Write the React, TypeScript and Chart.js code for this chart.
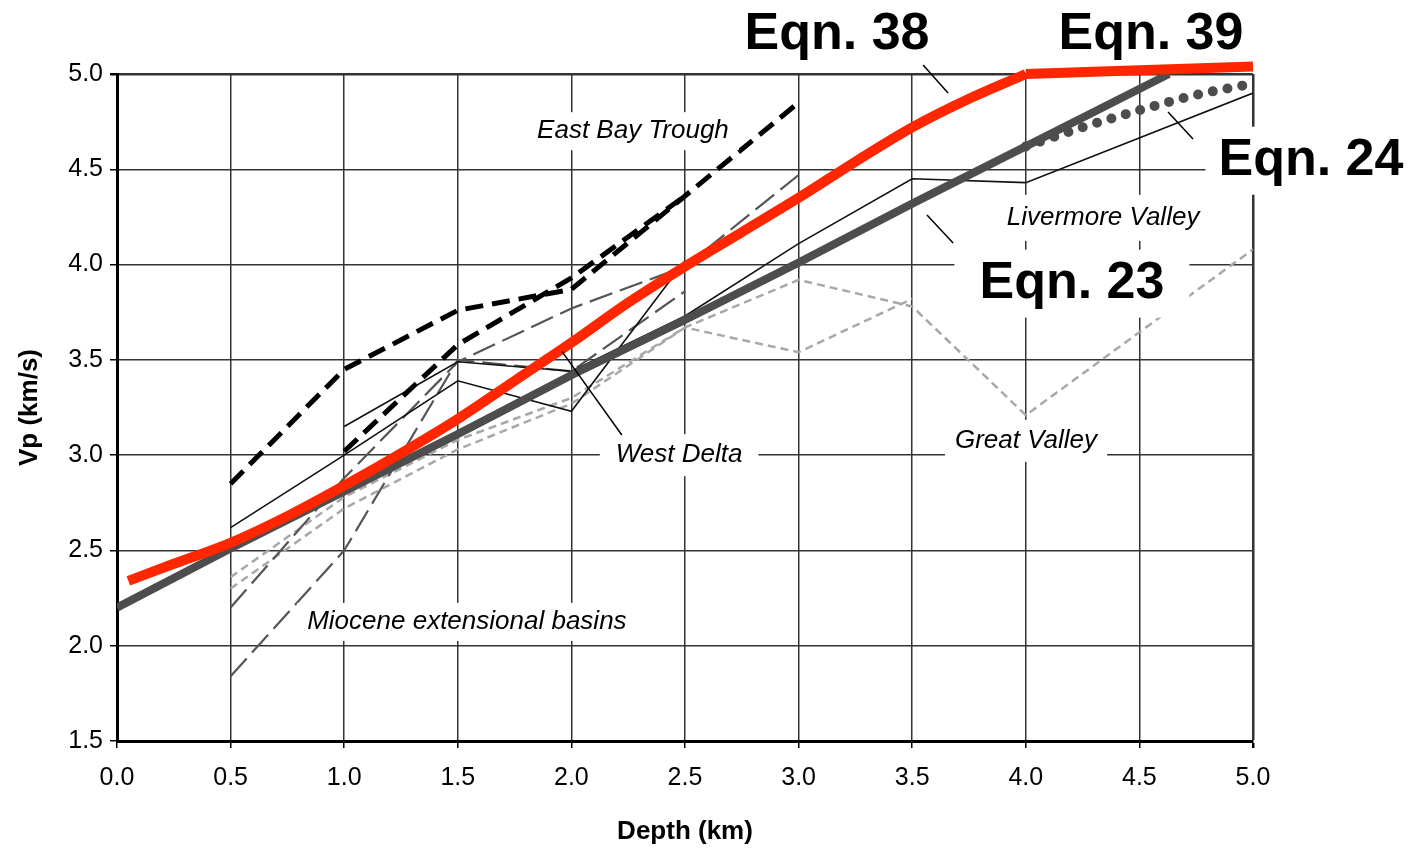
import React, { useEffect, useRef } from 'react';
import { Chart, registerables } from 'chart.js';

Chart.register(...registerables);

// ---------- data ----------
const depthTicks = [0, 0.5, 1, 1.5, 2, 2.5, 3, 3.5, 4, 4.5, 5];
const vpTicks = [1.5, 2, 2.5, 3, 3.5, 4, 4.5, 5];

const eqn38Depth = [0.05, 0.25, 0.5, 0.75, 1.0, 1.25, 1.5, 1.75, 2.0, 2.25, 2.5, 2.75, 3.0, 3.25, 3.5, 3.75, 4.0];
const eqn38Vp = [2.34, 2.43, 2.54, 2.68, 2.84, 3.01, 3.19, 3.39, 3.59, 3.8, 3.99, 4.17, 4.35, 4.54, 4.72, 4.87, 5.0];

const eqn39Depth = [4.0, 4.5, 5.0];
const eqn39Vp = [5.0, 5.02, 5.04];

const eqn23Depth = [0, 0.5, 1.0, 1.5, 2.0, 2.5, 3.0, 3.5, 4.0, 4.63];
const eqn23Vp = [2.2, 2.51, 2.81, 3.11, 3.42, 3.71, 4.01, 4.32, 4.62, 5.0];

const eqn24Depth = [4.0, 4.25, 4.5, 4.75, 5.0];
const eqn24Vp = [4.62, 4.72, 4.81, 4.89, 4.95];

const eastBayADepth = [0.5, 1.0, 1.5, 2.0, 2.5, 3.0];
const eastBayAVp = [2.85, 3.45, 3.76, 3.87, 4.36, 4.85];
const eastBayBDepth = [1.0, 1.5, 2.0, 2.5];
const eastBayBVp = [3.02, 3.58, 3.93, 4.36];

const livermoreDepth = [1.0, 1.5, 2.0, 2.5, 3.0, 3.5, 4.0, 5.0];
const livermoreVp = [3.15, 3.49, 3.44, 3.73, 4.11, 4.45, 4.43, 4.9];

const westDeltaDepth = [0.5, 1.0, 1.5, 2.0, 2.5];
const westDeltaVp = [2.62, 3.0, 3.39, 3.23, 4.02];

const mioceneADepth = [0.5, 1.0, 1.5, 2.0, 2.5];
const mioceneAVp = [1.84, 2.5, 3.5, 3.44, 3.86];
const mioceneBDepth = [0.5, 1.0, 1.5, 2.0, 2.5, 3.0];
const mioceneBVp = [2.2, 2.88, 3.49, 3.77, 3.99, 4.47];

const greatValleyADepth = [0.5, 1.0, 1.5, 2.0, 2.5, 3.0, 3.5, 4.0, 5.0];
const greatValleyAVp = [2.36, 2.78, 3.08, 3.3, 3.67, 3.92, 3.78, 3.21, 4.08];
const greatValleyBDepth = [0.5, 1.0, 1.5, 2.0, 2.5, 3.0, 3.5];
const greatValleyBVp = [2.3, 2.72, 3.03, 3.27, 3.67, 3.54, 3.82];

// ---------- annotations (text in data coordinates) ----------
type Note = { text: string; x: number; y: number; italic: boolean; bold: boolean; size: number; padX: number; padY: number; box: boolean };
const notes: Note[] = [
  { text: 'East Bay Trough', x: 2.271, y: 4.7, italic: true, bold: false, size: 26, padX: 10, padY: 6, box: true },
  { text: 'West Delta', x: 2.474, y: 3.0, italic: true, bold: false, size: 26, padX: 16, padY: 8, box: true },
  { text: 'Miocene extensional basins', x: 1.54, y: 2.125, italic: true, bold: false, size: 26, padX: 10, padY: 6, box: true },
  { text: 'Great Valley', x: 4.001, y: 3.075, italic: true, bold: false, size: 26, padX: 10, padY: 8, box: true },
  { text: 'Livermore Valley', x: 4.34, y: 4.245, italic: true, bold: false, size: 26, padX: 10, padY: 10, box: true },
  { text: 'Eqn. 23', x: 4.203, y: 3.9, italic: false, bold: true, size: 52, padX: 25, padY: 8, box: true },
  { text: 'Eqn. 24', x: 5.255, y: 4.545, italic: false, bold: true, size: 52, padX: 13, padY: 8, box: true },
  { text: 'Eqn. 38', x: 3.169, y: 5.208, italic: false, bold: true, size: 52, padX: 0, padY: 0, box: false },
  { text: 'Eqn. 39', x: 4.551, y: 5.208, italic: false, bold: true, size: 52, padX: 0, padY: 0, box: false },
];

const leaders: number[][] = [
  [3.548, 5.047, 3.658, 4.9],
  [4.626, 4.801, 4.736, 4.659],
  [3.565, 4.26, 3.68, 4.113],
  [1.959, 3.543, 2.222, 3.106],
];

const FONT = "'Liberation Sans', Arial, Helvetica, sans-serif";

const pts = (xs: number[], ys: number[]) => xs.map((x, i) => ({ x, y: ys[i] }));

const notePlugin = {
  id: 'notes',
  afterDatasetsDraw(chart: any) {
    const ctx = chart.ctx;
    const xs = chart.scales.x;
    const ys = chart.scales.y;
    ctx.save();
    notes.forEach((n) => {
      const px = xs.getPixelForValue(n.x);
      const py = ys.getPixelForValue(n.y);
      ctx.font = `${n.italic ? 'italic ' : ''}${n.bold ? 'bold ' : ''}${n.size}px ${FONT}`;
      const w = ctx.measureText(n.text).width;
      if (n.box) {
        ctx.fillStyle = '#ffffff';
        const h = n.size + 2 * n.padY;
        ctx.fillRect(px - w / 2 - n.padX, py - h / 2, w + 2 * n.padX, h);
      }
      ctx.fillStyle = '#000000';
      ctx.textAlign = 'center';
      ctx.textBaseline = 'middle';
      ctx.fillText(n.text, px, py);
    });
    ctx.strokeStyle = '#000000';
    ctx.lineWidth = 1.5;
    leaders.forEach((l) => {
      ctx.beginPath();
      ctx.moveTo(xs.getPixelForValue(l[0]), ys.getPixelForValue(l[1]));
      ctx.lineTo(xs.getPixelForValue(l[2]), ys.getPixelForValue(l[3]));
      ctx.stroke();
    });
    ctx.restore();
  },
};

export default function App() {
  const ref = useRef<HTMLCanvasElement | null>(null);

  useEffect(() => {
    if (!ref.current) return;
    const base = { pointRadius: 0, pointHoverRadius: 0, fill: false, tension: 0 };
    const chart = new Chart(ref.current, {
      type: 'line',
      data: {
        datasets: [
          { ...base, label: 'Eqn. 38', data: pts(eqn38Depth, eqn38Vp), borderColor: '#ff2600', borderWidth: 10, cubicInterpolationMode: 'monotone', borderCapStyle: 'butt', borderJoinStyle: 'round', clip: { left: 0, top: 16, right: 0, bottom: 0 } },
          { ...base, label: 'Eqn. 39', data: pts(eqn39Depth, eqn39Vp), borderColor: '#ff2600', borderWidth: 10, borderCapStyle: 'butt', clip: { left: 0, top: 16, right: 0, bottom: 0 } },
          { ...base, label: 'Eqn. 23', data: pts(eqn23Depth, eqn23Vp), borderColor: '#4d4d4d', borderWidth: 8, clip: 0 },
          { ...base, label: 'Eqn. 24', data: pts(eqn24Depth, eqn24Vp), borderColor: '#4d4d4d', borderWidth: 10, borderDash: [0, 15], borderCapStyle: 'round', cubicInterpolationMode: 'monotone', clip: 8 },
          { ...base, label: 'East Bay Trough A', data: pts(eastBayADepth, eastBayAVp), borderColor: '#000000', borderWidth: 5, borderDash: [18, 9] },
          { ...base, label: 'East Bay Trough B', data: pts(eastBayBDepth, eastBayBVp), borderColor: '#000000', borderWidth: 5, borderDash: [18, 9] },
          { ...base, label: 'Livermore Valley', data: pts(livermoreDepth, livermoreVp), borderColor: '#111111', borderWidth: 1.6 },
          { ...base, label: 'West Delta', data: pts(westDeltaDepth, westDeltaVp), borderColor: '#111111', borderWidth: 1.6 },
          { ...base, label: 'Miocene A', data: pts(mioceneADepth, mioceneAVp), borderColor: '#555555', borderWidth: 2.2, borderDash: [24, 8] },
          { ...base, label: 'Miocene B', data: pts(mioceneBDepth, mioceneBVp), borderColor: '#555555', borderWidth: 2.2, borderDash: [24, 8] },
          { ...base, label: 'Great Valley A', data: pts(greatValleyADepth, greatValleyAVp), borderColor: '#a8a8a8', borderWidth: 2.5, borderDash: [8, 5] },
          { ...base, label: 'Great Valley B', data: pts(greatValleyBDepth, greatValleyBVp), borderColor: '#a8a8a8', borderWidth: 2.5, borderDash: [8, 5] },
        ] as any,
      },
      options: {
        responsive: false,
        animation: false,
        events: [],
        layout: { padding: { left: 0, top: 74, right: 171, bottom: 0 } },
        plugins: { legend: { display: false }, tooltip: { enabled: false }, title: { display: false } },
        scales: {
          x: {
            type: 'linear',
            min: 0,
            max: 5,
            afterFit: (s: any) => { s.height = 109; },
            afterBuildTicks: (s: any) => { s.ticks = depthTicks.map((v) => ({ value: v })); },
            ticks: { callback: (v: any) => Number(v).toFixed(1), color: '#000', font: { family: FONT, size: 25 }, padding: 15, maxRotation: 0, autoSkip: false },
            grid: { color: '#333333', lineWidth: (c: any) => (c.tick && c.tick.value === 5 ? 2.5 : 1.5), tickColor: '#000', tickLength: 7 },
            border: { color: '#000', width: 3 },
            title: { display: true, text: 'Depth (km)', color: '#000', font: { family: FONT, size: 26, weight: 'bold' }, padding: { top: 0, bottom: 3 } },
          },
          y: {
            type: 'linear',
            min: 1.5,
            max: 5,
            afterFit: (s: any) => { s.width = 117; },
            afterBuildTicks: (s: any) => { s.ticks = vpTicks.map((v) => ({ value: v })); },
            ticks: { callback: (v: any) => Number(v).toFixed(1), color: '#000', font: { family: FONT, size: 25 }, padding: 7, autoSkip: false },
            grid: { color: '#333333', lineWidth: (c: any) => (c.tick && c.tick.value === 5 ? 2.5 : 1.5), tickColor: '#000', tickLength: 7 },
            border: { color: '#000', width: 3 },
            title: { display: true, text: 'Vp (km/s)', color: '#000', font: { family: FONT, size: 26, weight: 'bold' }, padding: { top: 14, bottom: 0 } },
          },
        },
      } as any,
      plugins: [notePlugin],
    });
    return () => chart.destroy();
  }, []);

  return (
    <div style={{ position: 'absolute', left: 0, top: 0, width: 1424, height: 850, background: '#fff' }}>
      <canvas ref={ref} width={1424} height={850} style={{ display: 'block' }} />
    </div>
  );
}
